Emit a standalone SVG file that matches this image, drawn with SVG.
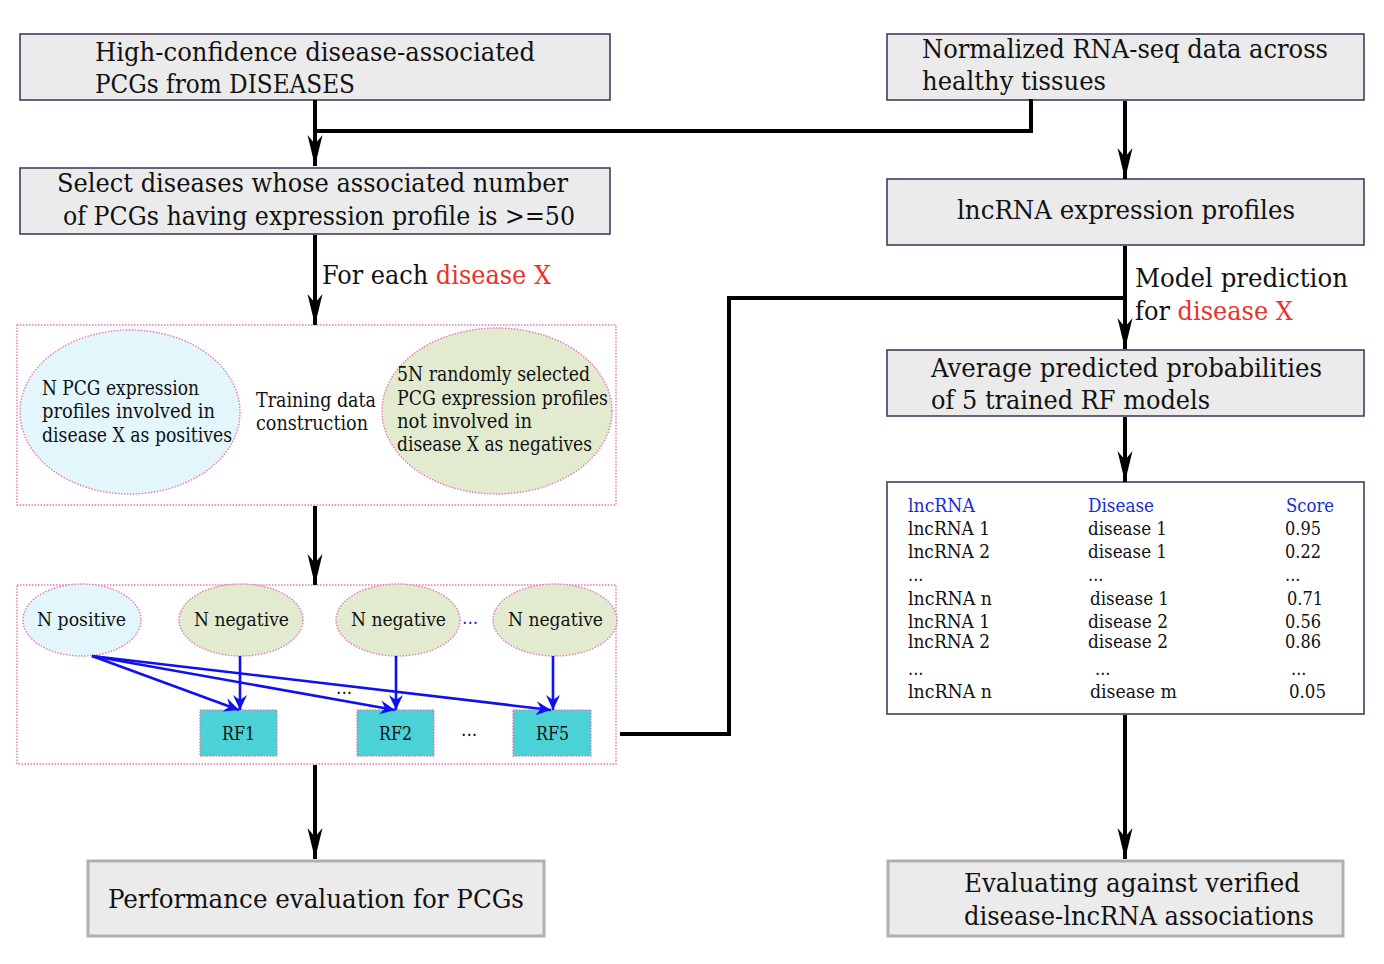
<svg xmlns="http://www.w3.org/2000/svg" width="1384" height="964" viewBox="0 0 1384 964">
<style>
text{font-family:"DejaVu Serif Condensed","DejaVu Serif","Liberation Serif",serif;fill:#111;font-stretch:condensed}
.big{font-size:26px}
.mid{font-size:20px}
.sm{font-size:19px}
.tb{font-size:18px}
.red{fill:#e8322a}
.blu{fill:#1a2bd6}
.box{fill:#ebebeb;stroke:#4a3a5c;stroke-width:1.6}
.gbox{fill:#ebebeb;stroke:#b0b0b0;stroke-width:3}
.dash{fill:#fff;stroke:#e878ae;stroke-width:1.4;stroke-dasharray:1.5 1.5}
.pos{fill:#e2f6fc;stroke:#e878ae;stroke-width:1.4;stroke-dasharray:1.5 1.5}
.neg{fill:#e2ebd0;stroke:#e878ae;stroke-width:1.4;stroke-dasharray:1.5 1.5}
.rf{fill:#4bd2d6;stroke:#e878ae;stroke-width:1.4;stroke-dasharray:1.5 1.5}
.k{fill:none;stroke:#000;stroke-width:4}
.b{fill:none;stroke:#1010ee;stroke-width:2.6}
</style>
<defs>
<marker id="ah" markerUnits="userSpaceOnUse" viewBox="-33 -9 34 18" refX="0" refY="0" markerWidth="34" markerHeight="18" orient="auto">
<path d="M0,0 L-31,-7.5 L-22,0 L-31,7.5 Z" fill="#000"/>
</marker>
<marker id="bh" markerUnits="userSpaceOnUse" viewBox="-16 -8 17 16" refX="0" refY="0" markerWidth="17" markerHeight="16" orient="auto">
<path d="M0,0 L-15,-7 L-10,0 L-15,7 Z" fill="#1010ee"/>
</marker>
</defs>

<g id="n-diseases">
<rect class="box" x="20" y="34" width="590" height="66"/>
<text class="big" x="95" y="61" textLength="440" lengthAdjust="spacingAndGlyphs">High-confidence disease-associated</text>
<text class="big" x="95" y="93" textLength="260" lengthAdjust="spacingAndGlyphs">PCGs from DISEASES</text>
</g>

<g id="n-rnaseq">
<rect class="box" x="887" y="34" width="477" height="66"/>
<text class="big" x="922" y="58" textLength="406" lengthAdjust="spacingAndGlyphs">Normalized RNA-seq data across</text>
<text class="big" x="922" y="90" textLength="184" lengthAdjust="spacingAndGlyphs">healthy tissues</text>
</g>

<g id="n-select">
<rect class="box" x="20" y="168" width="590" height="66"/>
<text class="big" x="57" y="192" textLength="511" lengthAdjust="spacingAndGlyphs">Select diseases whose associated number</text>
<text class="big" x="63" y="225" textLength="512" lengthAdjust="spacingAndGlyphs">of PCGs having expression profile is &gt;=50</text>
</g>

<g id="n-lncrna">
<rect class="box" x="887" y="179" width="477" height="66"/>
<text class="big" x="957" y="219" textLength="338" lengthAdjust="spacingAndGlyphs">lncRNA expression profiles</text>
</g>

<g id="n-training">
<rect class="dash" x="17" y="325" width="599" height="180"/>
<ellipse class="pos" cx="130" cy="412" rx="110" ry="82"/>
<text class="mid" x="42" y="395" textLength="157" lengthAdjust="spacingAndGlyphs">N PCG expression</text>
<text class="mid" x="42" y="418" textLength="173" lengthAdjust="spacingAndGlyphs">profiles involved in</text>
<text class="mid" x="42" y="442" textLength="190" lengthAdjust="spacingAndGlyphs">disease X as positives</text>
<text class="mid" x="256" y="407" textLength="120" lengthAdjust="spacingAndGlyphs">Training data</text>
<text class="mid" x="256" y="430" textLength="112" lengthAdjust="spacingAndGlyphs">construction</text>
<ellipse class="neg" cx="497" cy="411" rx="115" ry="83"/>
<text class="mid" x="397" y="381" textLength="193" lengthAdjust="spacingAndGlyphs">5N randomly selected</text>
<text class="mid" x="397" y="405" textLength="211" lengthAdjust="spacingAndGlyphs">PCG expression profiles</text>
<text class="mid" x="397" y="428" textLength="135" lengthAdjust="spacingAndGlyphs">not involved in</text>
<text class="mid" x="397" y="451" textLength="195" lengthAdjust="spacingAndGlyphs">disease X as negatives</text>
</g>

<g id="n-models">
<rect class="dash" x="17" y="585" width="599" height="179"/>
<ellipse class="pos" cx="82" cy="620" rx="59" ry="36"/>
<text class="sm" x="37" y="626" textLength="89" lengthAdjust="spacingAndGlyphs">N positive</text>
<ellipse class="neg" cx="241" cy="620" rx="62" ry="36"/>
<text class="sm" x="194" y="626" textLength="95" lengthAdjust="spacingAndGlyphs">N negative</text>
<ellipse class="neg" cx="398" cy="620" rx="62" ry="36"/>
<text class="sm" x="351" y="626" textLength="95" lengthAdjust="spacingAndGlyphs">N negative</text>
<text class="sm blu" x="462" y="624">...</text>
<ellipse class="neg" cx="555" cy="620" rx="62" ry="36"/>
<text class="sm" x="508" y="626" textLength="95" lengthAdjust="spacingAndGlyphs">N negative</text>
<text class="sm" x="336" y="694">...</text>
<rect class="rf" x="200" y="710" width="77" height="46"/>
<text class="sm" x="222" y="740" textLength="33" lengthAdjust="spacingAndGlyphs">RF1</text>
<rect class="rf" x="357" y="710" width="77" height="46"/>
<text class="sm" x="379" y="740" textLength="33" lengthAdjust="spacingAndGlyphs">RF2</text>
<text class="sm" x="461" y="736">...</text>
<rect class="rf" x="513" y="710" width="78" height="46"/>
<text class="sm" x="536" y="740" textLength="33" lengthAdjust="spacingAndGlyphs">RF5</text>
</g>

<g id="n-average">
<rect class="box" x="887" y="350" width="477" height="66"/>
<text class="big" x="931" y="377" textLength="391" lengthAdjust="spacingAndGlyphs">Average predicted probabilities</text>
<text class="big" x="931" y="409" textLength="279" lengthAdjust="spacingAndGlyphs">of 5 trained RF models</text>
</g>

<g id="n-table">
<rect x="887" y="482" width="477" height="232" fill="#fff" stroke="#4a3a5c" stroke-width="1.6"/>
<text class="tb blu" x="908" y="512" textLength="67" lengthAdjust="spacingAndGlyphs">lncRNA</text>
<text class="tb blu" x="1088" y="512" textLength="66" lengthAdjust="spacingAndGlyphs">Disease</text>
<text class="tb blu" x="1286" y="512" textLength="48" lengthAdjust="spacingAndGlyphs">Score</text>
<text class="tb" x="908" y="535" textLength="82" lengthAdjust="spacingAndGlyphs">lncRNA 1</text>
<text class="tb" x="1088" y="535" textLength="79" lengthAdjust="spacingAndGlyphs">disease 1</text>
<text class="tb" x="1285" y="535" textLength="36" lengthAdjust="spacingAndGlyphs">0.95</text>
<text class="tb" x="908" y="558" textLength="82" lengthAdjust="spacingAndGlyphs">lncRNA 2</text>
<text class="tb" x="1088" y="558" textLength="79" lengthAdjust="spacingAndGlyphs">disease 1</text>
<text class="tb" x="1285" y="558" textLength="36" lengthAdjust="spacingAndGlyphs">0.22</text>
<text class="tb" x="908" y="581">...</text>
<text class="tb" x="1088" y="581">...</text>
<text class="tb" x="1285" y="581">...</text>
<text class="tb" x="908" y="605" textLength="84" lengthAdjust="spacingAndGlyphs">lncRNA n</text>
<text class="tb" x="1090" y="605" textLength="79" lengthAdjust="spacingAndGlyphs">disease 1</text>
<text class="tb" x="1287" y="605" textLength="36" lengthAdjust="spacingAndGlyphs">0.71</text>
<text class="tb" x="908" y="628" textLength="82" lengthAdjust="spacingAndGlyphs">lncRNA 1</text>
<text class="tb" x="1088" y="628" textLength="80" lengthAdjust="spacingAndGlyphs">disease 2</text>
<text class="tb" x="1285" y="628" textLength="36" lengthAdjust="spacingAndGlyphs">0.56</text>
<text class="tb" x="908" y="648" textLength="82" lengthAdjust="spacingAndGlyphs">lncRNA 2</text>
<text class="tb" x="1088" y="648" textLength="80" lengthAdjust="spacingAndGlyphs">disease 2</text>
<text class="tb" x="1285" y="648" textLength="36" lengthAdjust="spacingAndGlyphs">0.86</text>
<text class="tb" x="908" y="675">...</text>
<text class="tb" x="1095" y="675">...</text>
<text class="tb" x="1291" y="675">...</text>
<text class="tb" x="908" y="698" textLength="84" lengthAdjust="spacingAndGlyphs">lncRNA n</text>
<text class="tb" x="1090" y="698" textLength="87" lengthAdjust="spacingAndGlyphs">disease m</text>
<text class="tb" x="1289" y="698" textLength="37" lengthAdjust="spacingAndGlyphs">0.05</text>
</g>

<g id="n-perf">
<rect class="gbox" x="88" y="861" width="456" height="75"/>
<text class="big" x="108" y="908" textLength="416" lengthAdjust="spacingAndGlyphs">Performance evaluation for PCGs</text>
</g>

<g id="n-eval">
<rect class="gbox" x="888" y="861" width="455" height="75"/>
<text class="big" x="964" y="892" textLength="336" lengthAdjust="spacingAndGlyphs">Evaluating against verified</text>
<text class="big" x="964" y="925" textLength="350" lengthAdjust="spacingAndGlyphs">disease-lncRNA associations</text>
</g>

<g id="connectors">
<path class="k" d="M315,100 V132"/>
<path class="k" d="M315,131 H1031 V99"/>
<path class="k" d="M315,131 V166" marker-end="url(#ah)"/>
<path class="k" d="M1125,101 V179" marker-end="url(#ah)"/>
<path class="k" d="M315,235 V325" marker-end="url(#ah)"/>
<path class="k" d="M315,506 V585" marker-end="url(#ah)"/>
<path class="k" d="M315,765 V859" marker-end="url(#ah)"/>
<path class="k" d="M1125,246 V349" marker-end="url(#ah)"/>
<path class="k" d="M620,734 H729 V298 H1125"/>
<path class="k" d="M1125,417 V482" marker-end="url(#ah)"/>
<path class="k" d="M1125,715 V859" marker-end="url(#ah)"/>
<path class="b" d="M92,656 L239,710" marker-end="url(#bh)"/>
<path class="b" d="M92,656 L395,710" marker-end="url(#bh)"/>
<path class="b" d="M92,656 L551,710" marker-end="url(#bh)"/>
<path class="b" d="M240,656 V710" marker-end="url(#bh)"/>
<path class="b" d="M396,656 V710" marker-end="url(#bh)"/>
<path class="b" d="M553,656 V710" marker-end="url(#bh)"/>
</g>

<g id="labels">
<text class="big" x="322" y="284" textLength="229" lengthAdjust="spacingAndGlyphs">For each <tspan class="red">disease X</tspan></text>
<text class="big" x="1135" y="287" textLength="213" lengthAdjust="spacingAndGlyphs">Model prediction</text>
<text class="big" x="1135" y="320" textLength="158" lengthAdjust="spacingAndGlyphs">for <tspan class="red">disease X</tspan></text>
</g>
</svg>
